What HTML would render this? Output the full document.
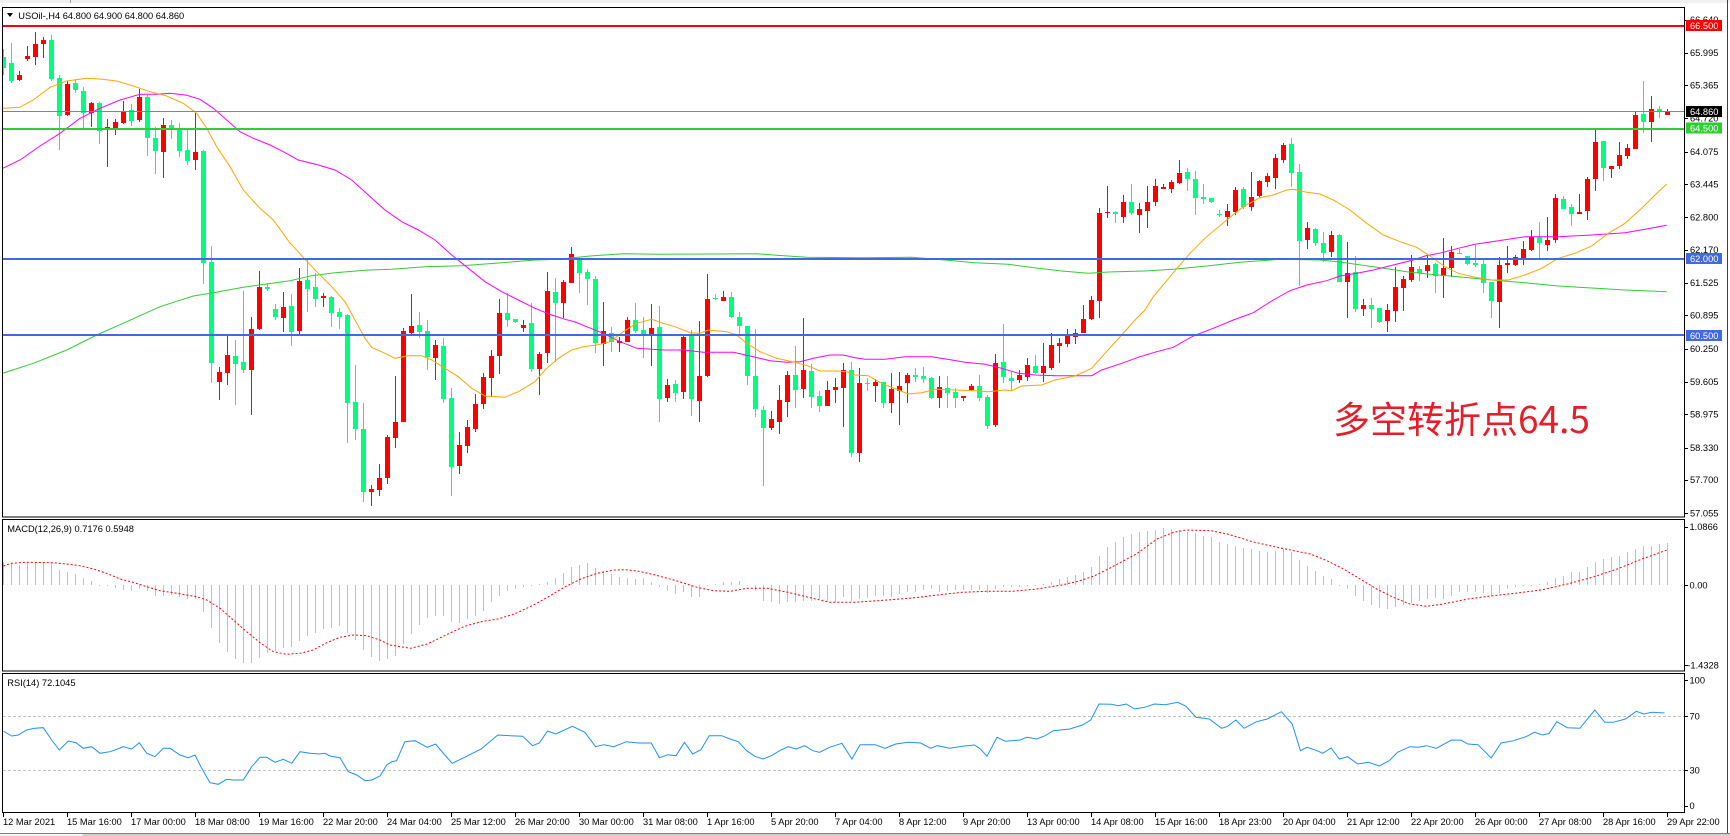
<!DOCTYPE html>
<html><head><meta charset="utf-8">
<style>
html,body{margin:0;padding:0;background:#fff;overflow:hidden;}
svg{display:block;}
text{font-family:"Liberation Sans","Noto Sans CJK SC",sans-serif;font-size:9.3px;fill:#000;}
.w{fill:#fff;}
</style></head><body>
<svg id="svg" width="1730" height="836" viewBox="0 0 1730 836" xmlns="http://www.w3.org/2000/svg">
<defs>
<clipPath id="cm"><rect x="3" y="8" width="1681" height="509"/></clipPath>
<clipPath id="cd"><rect x="3" y="520" width="1681" height="151"/></clipPath>
<clipPath id="cr"><rect x="3" y="674" width="1681" height="138"/></clipPath>
</defs>
<rect width="1730" height="836" fill="#fff"/>
<rect x="0" y="0" width="1730" height="3" fill="#f0f0f0"/>
<rect x="70" y="0" width="1" height="3" fill="#a0a0a0"/>

<g id="hist" clip-path="url(#cd)" shape-rendering="crispEdges"></g>
<g id="sig" clip-path="url(#cd)"></g>
<g id="rsi" clip-path="url(#cr)"></g>
<g id="cand" clip-path="url(#cm)" shape-rendering="crispEdges"></g>
<g id="ma" clip-path="url(#cm)"></g>

<g shape-rendering="crispEdges">
<rect x="3" y="25" width="1681" height="2" fill="#ff0000"/>
<rect x="3" y="111" width="1681" height="1" fill="#778899"/>
<rect x="3" y="128" width="1681" height="2" fill="#32cd32"/>
<rect x="3" y="258" width="1681" height="2" fill="#4169e1"/>
<rect x="3" y="334" width="1681" height="2" fill="#4169e1"/>
</g>

<!-- frames -->
<g fill="none" stroke="#000" stroke-width="1" shape-rendering="crispEdges">
<rect x="2.5" y="7.5" width="1682" height="509.5"/>
<rect x="2.5" y="519.5" width="1682" height="151.5"/>
<rect x="2.5" y="673.5" width="1682" height="139"/>
<line x1="1727.5" y1="0" x2="1727.5" y2="834" stroke="#404040"/>
<line x1="0" y1="833.5" x2="1730" y2="833.5" stroke="#808080"/>
</g>
<rect x="0" y="834" width="1730" height="2" fill="#d4d0c8"/>
<rect x="0" y="834" width="83" height="2" fill="#f4f4f4"/>

<g id="ticks" shape-rendering="crispEdges"></g>

<!-- title -->
<polygon points="7,13 13,13 10,17" fill="#000"/>
<text x="18.3" y="19">USOil-,H4  64.800 64.900 64.800 64.860</text>
<text x="7.3" y="532">MACD(12,26,9) 0.7176 0.5948</text>
<text x="7.3" y="686">RSI(14) 72.1045</text>

<!-- price labels -->
<g>
<text x="1690" y="22.8">66.640</text>
<text x="1690" y="56.0">65.995</text>
<text x="1690" y="88.5">65.365</text>
<text x="1690" y="121.7">64.720</text>
<text x="1690" y="154.9">64.075</text>
<text x="1690" y="187.3">63.445</text>
<text x="1690" y="220.6">62.800</text>
<text x="1690" y="253.0">62.170</text>
<text x="1690" y="286.2">61.525</text>
<text x="1690" y="318.7">60.895</text>
<text x="1690" y="351.9">60.250</text>
<text x="1690" y="385.1">59.605</text>
<text x="1690" y="417.5">58.975</text>
<text x="1690" y="450.8">58.330</text>
<text x="1690" y="483.2">57.700</text>
<text x="1690" y="516.4">57.055</text>
</g>
<g shape-rendering="crispEdges">
<rect x="1686" y="20" width="36" height="11" fill="#ff0000"/>
<rect x="1686" y="106" width="36" height="11" fill="#000"/>
<rect x="1686" y="122.5" width="36" height="11" fill="#32cd32"/>
<rect x="1686" y="253" width="36" height="11" fill="#4169e1"/>
<rect x="1686" y="330" width="36" height="11" fill="#4169e1"/>
</g>
<text class="w" x="1690" y="28.8">66.500</text>
<text class="w" x="1690" y="114.8">64.860</text>
<text class="w" x="1690" y="131.3">64.500</text>
<text class="w" x="1690" y="261.8">62.000</text>
<text class="w" x="1690" y="338.8">60.500</text>

<!-- indicator axis labels -->
<text x="1689.5" y="530">1.0866</text>
<text x="1689.5" y="588.3">0.00</text>
<text x="1687.3" y="668.3">-1.4328</text>
<text x="1689.5" y="683.3">100</text>
<text x="1689.5" y="719.3">70</text>
<text x="1689.5" y="773.6">30</text>
<text x="1689.5" y="809">0</text>

<!-- time labels -->
<g>
<text x="3" y="825">12 Mar 2021</text>
<text x="67" y="825">15 Mar 16:00</text>
<text x="131" y="825">17 Mar 00:00</text>
<text x="195" y="825">18 Mar 08:00</text>
<text x="259" y="825">19 Mar 16:00</text>
<text x="323" y="825">22 Mar 20:00</text>
<text x="387" y="825">24 Mar 04:00</text>
<text x="451" y="825">25 Mar 12:00</text>
<text x="515" y="825">26 Mar 20:00</text>
<text x="579" y="825">30 Mar 00:00</text>
<text x="643" y="825">31 Mar 08:00</text>
<text x="707" y="825">1 Apr 16:00</text>
<text x="771" y="825">5 Apr 20:00</text>
<text x="835" y="825">7 Apr 04:00</text>
<text x="899" y="825">8 Apr 12:00</text>
<text x="963" y="825">9 Apr 20:00</text>
<text x="1027" y="825">13 Apr 00:00</text>
<text x="1091" y="825">14 Apr 08:00</text>
<text x="1155" y="825">15 Apr 16:00</text>
<text x="1219" y="825">18 Apr 23:00</text>
<text x="1283" y="825">20 Apr 04:00</text>
<text x="1347" y="825">21 Apr 12:00</text>
<text x="1411" y="825">22 Apr 20:00</text>
<text x="1475" y="825">26 Apr 00:00</text>
<text x="1539" y="825">27 Apr 08:00</text>
<text x="1603" y="825">28 Apr 16:00</text>
<text x="1667" y="825">29 Apr 22:00</text>
</g>

<text x="1333" y="433" style="font-family:'Noto Sans CJK SC','Liberation Sans',sans-serif;font-size:37px;fill:#e61e28;">多空转折点64.5</text>
</svg>
<script>
(function(){
var NS="http://www.w3.org/2000/svg";
function el(tag,a,p){var e=document.createElementNS(NS,tag);for(var k in a)e.setAttribute(k,a[k]);p.appendChild(e);return e;}
var C=[
[0,118,140,175,195],[0,100,158,213,218],[1,183,195,210,212],[1,108,138,147,152],[1,66,102,140,165],[1,82,90,101,143],[0,74,90,207,212],[0,195,204,318,420],[1,212,222,315,318],[0,210,218,240,250],
[0,230,243,308,355],[1,275,280,308,350],[0,275,280,362,402],[1,327,350,355,470],[1,327,337,355,375],[1,272,303,338,342],[0,283,300,332,348],[1,236,262,330,335],[0,256,262,385,438],[0,350,384,423,492],
[1,324,345,425,503],[0,330,345,355,387],[0,338,355,422,440],[0,357,420,452,465],[1,310,426,450,480],[0,420,423,758,822],[0,708,756,1060,1118],[1,1072,1085,1115,1170],[1,972,1035,1088,1124],[0,990,1038,1062,1185],
[0,843,1055,1080,1090],[1,920,957,1080,1215],[1,783,830,958,960],[0,820,830,836,842],[0,882,897,922,930],[1,846,890,923,966],[0,852,888,965,1007],[1,773,812,962,975],[0,748,810,836,905],[0,790,831,866,890],
[1,850,857,863,890],[0,857,860,908,950],[0,895,906,920,958],[0,913,915,1178,1298],[0,1065,1176,1258,1290],[0,1180,1257,1445,1475],[1,1425,1437,1447,1487],[1,1362,1404,1439,1457],[1,1275,1280,1403,1423],[1,1098,1237,1283,1315],
[1,955,963,1235,1235],[1,852,948,968,975],[0,906,945,966,985],[0,930,963,1040,1080],[1,990,1005,1043,1110],[0,985,1008,1168,1180],[0,1133,1163,1370,1457],[1,1265,1305,1367,1393],[1,1230,1250,1307,1328],[1,1152,1182,1258,1265],
[1,1090,1100,1183,1198],[1,1020,1038,1103,1160],[1,867,909,1037,1093],[0,850,909,930,952],[0,927,928,935,938],[1,930,945,953,965],[0,880,938,1077,1085],[1,1025,1032,1078,1155],[1,785,843,1030,1060],[0,803,847,878,1055],
[1,810,816,878,925],[1,712,732,818,820],[0,740,745,790,850],[0,778,786,808,885],[0,798,808,998,1030],[1,877,963,1002,1067],[0,952,970,997,1027],[1,980,993,1000,1027],[1,922,930,995,995],[0,880,930,962,970],
[0,922,960,975,1045],[1,882,955,975,1067],[0,888,952,1168,1235],[1,1108,1125,1165,1175],[0,1110,1122,1148,1175],[1,975,980,1145,1168],[0,960,978,1168,1218],[1,933,1098,1172,1235],[1,792,867,1097,1100],[0,852,864,868,870],
[1,843,860,872,872],[0,847,860,922,925],[0,906,922,947,975],[0,948,948,1097,1125],[0,958,1097,1198,1220],[0,1188,1200,1255,1427],[1,1203,1227,1253,1260],[1,1125,1170,1235,1273],[1,1083,1095,1175,1220],[0,1008,1095,1140,1193],
[1,925,1080,1138,1163],[0,1063,1083,1162,1193],[0,1143,1158,1187,1205],[1,1113,1140,1187,1187],[1,1105,1130,1140,1178],[1,1058,1080,1133,1250],[0,1055,1080,1330,1340],[1,1075,1120,1330,1355],[0,1105,1118,1122,1142],[1,1108,1115,1127,1175],
[0,1115,1117,1178,1195],[1,1090,1138,1178,1208],[1,1087,1128,1142,1245],[1,1090,1095,1120,1178],[0,1075,1095,1100,1117],[0,1072,1098,1107,1118],[0,1102,1104,1163,1168],[1,1098,1132,1163,1195],[0,1098,1135,1148,1195],[0,1135,1145,1165,1195],
[1,1158,1158,1165,1172],[1,1123,1128,1140,1142],[0,1095,1128,1163,1172],[0,1155,1160,1248,1258],[1,1032,1058,1245,1250],[0,942,1055,1102,1120],[0,1085,1105,1112,1143],[1,1080,1095,1110,1120],[1,1045,1065,1100,1113],[0,1035,1068,1088,1092],
[1,998,1068,1088,1115],[1,970,1005,1073,1080],[1,985,1000,1007,1058],[1,958,978,1002,1010],[1,958,968,980,1003],[1,885,927,968,970],[1,858,870,927,930],[1,595,608,872,923],[1,528,605,610,623],[0,603,607,611,638],
[1,555,576,620,640],[0,522,576,610,615],[1,580,597,614,668],[1,528,576,603,655],[1,507,528,576,588],[1,522,531,536,537],[1,510,516,536,548],[1,450,489,518,522],[0,474,486,507,543],[0,483,507,563,614],
[0,522,561,566,583],[0,563,564,575,578],[0,600,613,615,620],[1,582,603,620,647],[1,531,540,605,615],[0,531,537,590,598],[1,486,562,590,603],[1,510,513,557,560],[1,490,498,515,530],[1,432,444,503,537],
[1,400,404,450,458],[0,384,402,489,530],[0,462,486,692,828],[1,636,654,690,718],[0,655,657,698,708],[0,667,699,729,755],[1,663,675,725,740],[0,672,675,815,815],[1,695,788,815,925],[0,738,787,897,905],
[1,867,885,898,918],[0,865,885,897,955],[0,893,893,935,938],[1,882,900,932,965],[1,772,830,902,935],[1,798,807,833,902],[1,735,770,810,815],[0,768,777,790,812],[1,735,765,782,805],[0,758,762,797,850],
[1,683,773,797,865],[1,708,725,775,800],[0,718,728,730,732],[0,738,738,763,765],[0,705,759,765,770],[0,748,762,820,848],[0,815,815,872,925],[1,742,765,877,955],[1,708,759,764,790],[1,735,740,765,768],
[1,692,717,745,765],[1,660,681,720,722],[0,635,681,700,745],[1,620,690,705,722],[1,552,563,690,698],[0,558,568,596,597],[0,582,591,611,647],[1,552,605,611,613],[1,500,507,603,630],[1,358,396,507,542],
[0,393,393,473,512],[1,467,467,476,503],[1,396,435,467,476],[1,402,413,437,448],[1,302,315,418,418],[0,212,312,336,370],[1,258,297,336,395],[0,288,297,302,323],[1,298,304,315,315]
];
var gc=document.getElementById('cand');
function Y(v){return Math.round(10+v/3);}
for(var i=0;i<C.length;i++){
  var d=C[i],cx=3+8*i,col=d[0]?'#ff0000':'#00ff7f';
  var yh=Y(d[1]),yt=Y(d[2]),yb=Y(d[3]),yl=Y(d[4]);
  el('rect',{x:cx,y:yh,width:1,height:Math.max(1,yl-yh),fill:col},gc);
  el('rect',{x:cx-2,y:yt,width:5,height:Math.max(1,yb-yt),fill:col},gc);
}
function poly(arr,col,parent,extra){
  var pts=[];for(var j=0;j<arr.length;j+=2)pts.push(arr[j].toFixed(1)+','+arr[j+1].toFixed(1));
  var a={points:pts.join(' '),fill:'none',stroke:col,'stroke-width':1};
  if(extra)for(var k in extra)a[k]=extra[k];
  el('polyline',a,parent);
}
var gm=document.getElementById('ma');
var GR=[2.7,373.3,33.3,363.3,66.7,350,96.7,335,126.7,321.7,160,306.7,193.3,296,213.3,292.7,243.3,287.3,266.7,284,290,280.7,311.7,275.7,335,272.7,368.3,270,391.7,269.3,425,266.7,461.7,265.7,501.7,262.7,535,260,558.3,259.3,590,256,623.3,253.7,656.7,254.3,710,254,756.7,253.7,776.7,255.3,806.7,257.3,860,257.7,911.7,257.3,945,260,975,262.7,1008.3,264.3,1038.3,268.3,1061.7,271,1088.3,273.3,1108.3,272,1145,271,1173.3,269.3,1206.7,266,1240,262.3,1280,259.3,1320,260,1340,262,1373.3,266.7,1406.7,271.7,1430,274.3,1458.3,276.7,1491.7,280,1525,282.7,1558.3,286,1591.7,288,1625,290,1666.7,291.7];
var MG=[2.7,168.3,20,160,40,146,60,133.3,80,118.3,100,108.3,120,100,140,94.3,156.7,94.3,170,93.3,186.7,95.3,200,99.3,213.3,108.3,226.7,120,240,131.7,253.3,138.3,270,145,283.3,151.7,298.3,160,318.3,165,335,170,351.7,180,368.3,195,385,210,401.7,221.7,418.3,230,435,240,451.7,255,468.3,268.3,485,281.7,501.7,291.7,518.3,300,535,308.3,551.7,315,565,319.3,575,322,586.7,326.7,603.3,333.3,620,341.7,636.7,348.3,663.3,350,683.3,350,703.3,352.3,733.3,352.3,750,356,770,360.7,786.7,362.3,800,361.7,813.3,358.3,830,355,843.3,355,855,357.7,865,359.3,885,359.3,905,356.7,931.7,356.7,951.7,360,965,362.3,985,364.3,1001.7,368.3,1018.3,373.3,1035,375,1055,375.7,1091.7,375.7,1101.7,370,1121.7,363.3,1140,356.7,1156.7,351.7,1173.3,347.3,1193.3,336,1213.3,328.3,1233.3,320,1253.3,312.7,1273.3,300,1290,290.7,1306.7,285,1326.7,280.7,1340,276,1356.7,273.3,1373.3,270,1393.3,265,1413.3,260,1425,256,1441.7,252.7,1458.3,248.3,1475,244.3,1491.7,241.7,1508.3,239.3,1525,236.7,1558.3,236.7,1591.7,235,1625,232.7,1645,229.3,1666.7,225.3];
var OR=[2.7,108.3,20,107.3,33.3,100,50,87.3,66.7,81,86.7,78.3,100,79,116.7,81,133.3,86,150,91.7,166.7,96,183.3,103.3,196.7,113.3,206.7,128.3,216.7,146.7,230,166.7,243.3,190,260,208.3,273.3,220,290,243,295,248.3,305,259.3,318.3,273.3,331.7,286.7,345,301.7,355,320,365,338.3,371.7,347.3,385,353.3,395,358.3,408.3,355.7,421.7,355.7,431.7,360,445,368.3,458.3,376.7,471.7,388.3,485,396,505,397.3,518.3,391.7,535,381.7,545,370,558.3,358.3,571.7,350,583.3,346.7,596.7,345,610,341.7,623.3,331.7,636.7,323.3,651.7,319.3,663.3,323.3,676.7,327.3,690,332.7,700,333.3,708.3,330,726.7,331.7,736.7,335,746.7,343.3,760,351.7,776.7,358.3,796.7,362.7,810,366.7,820,371,836.7,371,846.7,371.7,855,375,868.3,375.7,881.7,383.3,898.3,390,908.3,394,921.7,392.7,935,389.3,955,390,975,390.7,988.3,391.7,1005,390,1011.7,390.7,1021.7,386,1041.7,385,1055,380,1075,376,1091.7,368.3,1105,353.3,1121.7,335,1135,320,1145,310,1153.3,296.7,1170,276.7,1190,253.3,1206.7,236.7,1226.7,220,1243.3,206.7,1260,197.7,1273.3,195,1286.7,190,1293.3,189.3,1306.7,192.3,1320,194,1333.3,200,1350,210,1366.7,223.3,1383.3,235,1400,241.7,1416.7,247.3,1430,256,1445,266.7,1458.3,273.3,1475,277.3,1491.7,280,1508.3,280,1525,275,1541.7,268.3,1558.3,258.3,1575,253.3,1591.7,246,1608.3,233.3,1625,223.3,1641.7,208.3,1655,195,1666.7,184];
poly(GR,'#32cd32',gm);poly(MG,'#ff00ff',gm);poly(OR,'#ffa500',gm);

// MACD histogram
var H1=[562.3,564,565,562.7,562.3,562,562.7,570,572.3,574,578.3,581,585,586,588.3,590,590.7,589.3,590.7,595.7,595.7,595,597.3,599.3,599.3,611.7,628.3,642.7,651.7,659,663.3,662.7,657.7,652.7,651,647.7,647,641,636,632.7,629,627.7,626,632.7,640,650,656.7,660.7,659];
var H2=[410,375,345,318,298,290,290,310,312,300,290,275,248,230,215,210,205,200,195,188,178,162,145,138,132,148,155,165,175,178,180,178,188,205,215,225,220,235,235,200,195,190,188,185,200,215,245,250,255,250,250,245,245,240,245,248,235,245,240,238,230,232,235,225,220,218,212,210,218,215,212,213,213,212,222,210,205,205,205,200,198,195,190,180,175,168,160,145,110,85,70,55,45,40,35,32,28,30,32,38,42,50,55,68,75,80,88,90,95,98,95,90,100,122,140,155,170,180,198,210,230,245,258,268,270,265,258,252,245,240,238,240,230,220,218,218,222,228,222,210,205,202,198,195,190,178,170,160,158,145,128,120,115,110,100,90,82,80,75,72];
var gh=document.getElementById('hist');
var HV=H1.slice();for(var j=0;j<H2.length;j++)HV.push(519+H2[j]/3);
for(var i=0;i<HV.length;i++){
  var v=Math.round(HV[i]),z=585,cx=3+8*i;
  var y0=Math.min(v,z),h=Math.max(1,Math.abs(v-z));
  el('rect',{x:cx,y:y0,width:1,height:h,fill:'#c0c0c0'},gh);
}
// signal
var S1=[3.3,566,11.3,563.3,26.7,562.3,53.3,562.7,66.7,564,80,565.7,93.3,569,106.7,573.3,120,579,133.3,582.3,146.7,586.7,160,590.7,173.3,592.7,186.7,595,196.7,596.7,206.7,600,220,608.3,233.3,620,246.7,631.7,260,642.7,273.3,651.7,286.7,654.3,300,653.3,313.3,650,326.7,642.7,340,637.3,353.3,635,366.7,635.7,380,640,390,645];
var S2=[25,388,45,375,70,345,90,322,110,308,130,300,150,285,170,262,190,235,210,205,230,180,250,163,270,153,285,152,300,157,320,168,345,185,370,205,390,215,410,217,430,208,455,208,480,220,510,238,530,250,560,250,600,243,630,237,660,228,690,220,720,217,750,217,780,210,810,198,830,187,850,170,870,145,900,105,925,60,945,40,960,33,990,35,1010,45,1040,68,1070,85,1090,95,1110,105,1130,125,1150,150,1170,180,1190,210,1210,235,1230,255,1250,262,1270,255,1300,240,1330,230,1360,222,1390,212,1420,195,1450,175,1480,150,1510,120,1540,93];
var SS=S1.slice();for(var j=0;j<S2.length;j+=2){SS.push(390+S2[j]/1.206,519+S2[j+1]/3);}
poly(SS,'#ff0000',document.getElementById('sig'),{'stroke-dasharray':'2 2'});

// RSI
var gr=document.getElementById('rsi');
el('line',{x1:3,y1:716.5,x2:1684,y2:716.5,stroke:'#c0c0c0','stroke-dasharray':'3 2','shape-rendering':'crispEdges'},gr);
el('line',{x1:3,y1:770.5,x2:1684,y2:770.5,stroke:'#c0c0c0','stroke-dasharray':'3 2','shape-rendering':'crispEdges'},gr);
var R1=[10,693,35,708,55,705,80,690,105,685,130,683,155,720,178,750,205,723,228,728,250,745,275,740,300,760,330,755,350,748,370,740,395,747,418,728,440,760,465,770,490,745,510,745,540,765,565,773,585,765,605,805,630,848,655,853,680,838,700,840,730,840,755,800,780,772,800,772,825,787,850,778,875,790,900,755,930,760,960,762,975,760,990,768,1020,773,1045,815,1070,825,1095,842,1115,840,1140,828,1160,795,1175,785];
var R2=[8,725,18,668,30,665,45,685,55,675,65,705,75,733,90,715,110,690,130,648,145,650,160,652,172,680,180,672,190,636,200,645,220,622,235,640,248,683,258,677,270,683,285,668,300,672,315,672,325,716,335,707,345,710,355,670,365,705,375,692,385,650,400,650,410,660,420,668,430,695,440,712,450,720,460,710,470,695,480,683,490,690,500,680,510,695,518,700,530,685,545,673,557,720,567,677,585,677,597,688,610,675,625,670,640,672,652,688,660,680,675,688,690,682,705,678,712,690,720,712,732,655,742,667,760,663,768,655,780,660,790,650,800,635,820,630,835,618,845,603,855,555,870,556,878,560,888,555,898,570,910,565,922,555,935,557,950,550,960,562,972,595,988,600,1003,628,1010,622,1020,603,1030,628,1045,608,1058,600,1075,578,1088,615,1098,695,1106,685,1118,695,1125,703,1135,687,1145,720,1155,713,1167,735,1180,730,1193,741,1205,725,1215,700,1230,683,1240,685,1250,680,1262,688,1280,663,1292,664,1300,675,1312,677,1328,717,1340,672,1355,665,1370,653,1380,640,1390,648,1398,643,1407,608,1420,626,1435,628,1453,573,1465,610,1475,610,1490,600,1503,577,1512,585,1522,580,1537,582];
var RR=[];for(var j=0;j<R1.length;j+=2)RR.push(R1[j]/3,500+R1[j+1]/3);
for(var j=0;j<R2.length;j+=2)RR.push(390+R2[j]/1.206,519+R2[j+1]/3);
poly(RR,'#1e90ff',gr);

// ticks
var gt=document.getElementById('ticks');
var pY=[19.5,52.7,85.2,118.4,151.6,184,217.3,249.7,282.9,315.4,348.6,381.8,414.2,447.5,479.9,513.1,526.7,585,665,680,716,770,805.7];
for(var j=0;j<pY.length;j++)el('rect',{x:1685,y:Math.round(pY[j]),width:3,height:1,fill:'#000'},gt);
for(var k=0;k<27;k++)el('rect',{x:3+64*k,y:813,width:1,height:4,fill:'#000'},gt);
})();
</script>
</body></html>
